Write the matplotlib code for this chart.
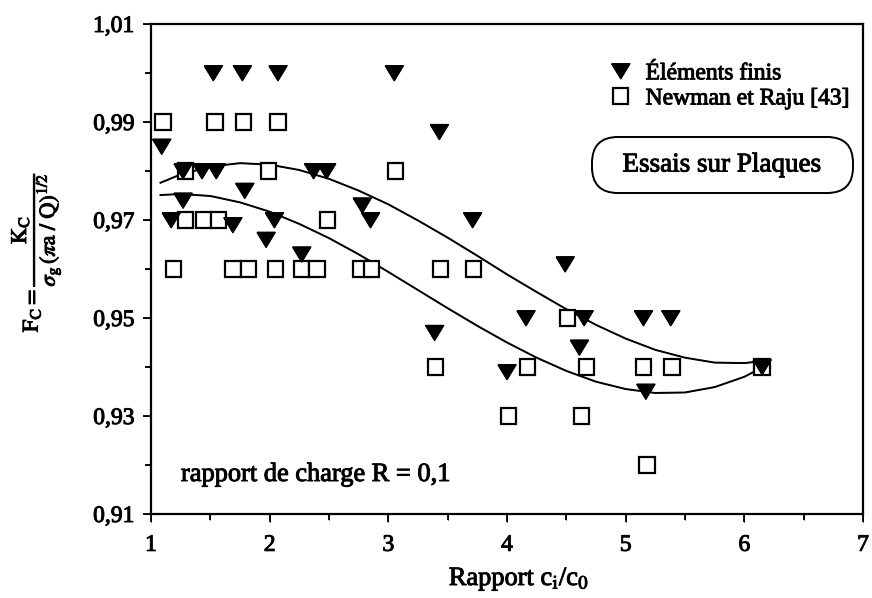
import matplotlib
matplotlib.use('Agg')
import matplotlib.pyplot as plt
import matplotlib.patheffects as pe
from matplotlib.patches import FancyBboxPatch
from matplotlib.transforms import IdentityTransform
from matplotlib.ticker import MultipleLocator, FixedLocator, FuncFormatter

plt.rcParams['font.family'] = ['Liberation Serif', 'DejaVu Serif']
plt.rcParams['mathtext.fontset'] = 'stix'
# the scanned original has heavy text: thicken glyphs a little
plt.rcParams['path.effects'] = [pe.withStroke(linewidth=0.7, foreground='black')]

# Éléments finis (triangles)
ef_x = [1.09, 1.17, 1.27, 1.27, 1.43, 1.55, 1.525, 1.77, 2.07, 1.69, 1.79,
        1.97, 2.04, 2.27, 2.37, 2.48, 2.78, 2.85, 3.05, 3.43, 3.39, 3.71,
        4.00, 4.16, 4.49, 4.61, 4.65, 5.15, 5.38, 5.17, 6.15]
ef_y = [0.985, 0.970, 0.974, 0.980, 0.980, 0.980, 1.000, 1.000, 1.000, 0.969, 0.976,
        0.966, 0.970, 0.963, 0.980, 0.980, 0.973, 0.970, 1.000, 0.988, 0.947, 0.970,
        0.939, 0.950, 0.961, 0.944, 0.950, 0.950, 0.950, 0.935, 0.940]

# Newman et Raju [43] (squares)
nr_x = [1.10, 1.54, 1.78, 2.07, 1.29, 1.99, 3.06, 1.29, 1.44, 1.57, 2.49,
        1.19, 1.69, 1.82, 2.05, 2.27, 2.40, 2.77, 2.86, 3.44, 3.72,
        4.51, 3.40, 4.17, 4.67, 5.15, 5.39, 6.15, 4.01, 4.63, 5.18]
nr_y = [0.99, 0.99, 0.99, 0.99, 0.98, 0.98, 0.98, 0.97, 0.97, 0.97, 0.97,
        0.96, 0.96, 0.96, 0.96, 0.96, 0.96, 0.96, 0.96, 0.96, 0.96,
        0.95, 0.94, 0.94, 0.94, 0.94, 0.94, 0.94, 0.93, 0.93, 0.92]

# trend curves
curve_x = [1.08, 1.25, 1.5, 1.75, 2.0, 2.25, 2.5, 2.75, 3.0, 3.25, 3.5,
           3.75, 4.0, 4.25, 4.5, 4.75, 5.0, 5.25, 5.5, 5.75, 6.0, 6.15]
upper_y = [0.9776, 0.9793, 0.9809, 0.9816, 0.9813, 0.9802, 0.9784, 0.9760, 0.9732, 0.9699, 0.9664,
           0.9627, 0.9589, 0.9553, 0.9518, 0.9486, 0.9458, 0.9435, 0.9419, 0.9409, 0.9408, 0.9412]
lower_y = [0.9751, 0.9753, 0.9749, 0.9736, 0.9717, 0.9692, 0.9663, 0.9630, 0.9594, 0.9557, 0.9520,
           0.9484, 0.9450, 0.9419, 0.9392, 0.9370, 0.9355, 0.9347, 0.9348, 0.9359, 0.9380, 0.9399]

y_ticks = [0.91, 0.93, 0.95, 0.97, 0.99, 1.01]
y_minor = [0.92, 0.94, 0.96, 0.98, 1.00]

# slightly flattened down-pointing triangle, like the original markers
tri = [(-1, 0.8), (1, 0.8), (0, -0.85), (-1, 0.8)]

fig = plt.figure(figsize=(8.72, 5.98), dpi=100)
ax = fig.add_axes([151 / 872, 84 / 598, 712 / 872, 490 / 598])

ax.plot(curve_x, upper_y, color='black', lw=1.4)
ax.plot(curve_x, lower_y, color='black', lw=1.4)
ax.plot(nr_x, nr_y, 's', ms=11, mfc='white', mec='black', mew=1.6,
        ls='none', label='Newman et Raju [43]')
ax.plot(ef_x, ef_y, marker=tri, ms=13, color='black', ls='none', label='Éléments finis')

ax.set_xlim(1, 7)
ax.set_ylim(0.91, 1.01)
ax.xaxis.set_major_locator(MultipleLocator(1))
ax.xaxis.set_minor_locator(MultipleLocator(0.5))
ax.yaxis.set_major_locator(FixedLocator(y_ticks))
ax.yaxis.set_minor_locator(FixedLocator(y_minor))
ax.yaxis.set_major_formatter(FuncFormatter(lambda v, p: f'{v:.2f}'.replace('.', ',')))
ax.tick_params(which='major', length=6, width=1.3, labelsize=17)
ax.tick_params(which='minor', length=4, width=1.3)
ax.tick_params(axis='x', pad=9)
ax.tick_params(axis='y', pad=6)
for s in ax.spines.values():
    s.set_linewidth(1.6)

h, l = ax.get_legend_handles_labels()
ax.legend(h[::-1], l[::-1], loc='upper left', bbox_to_anchor=(0.625, 0.945),
          frameon=False, fontsize=17, borderpad=0, labelspacing=0.15,
          handletextpad=0.5, handlelength=1.1)

box = FancyBboxPatch((592, 598 - 193), 261, 56, boxstyle='round,pad=0,rounding_size=26',
                     transform=IdentityTransform(), fc='white', ec='black', lw=1.4, clip_on=False)
ax.add_artist(box)
fig.text(722 / 872, 1 - 165 / 598, 'Essais sur Plaques', fontsize=19.5, ha='center', va='center')

fig.text(181 / 872, 1 - 481 / 598, 'rapport de charge R = 0,1', fontsize=19, ha='left', va='baseline')

fig.text(519 / 872, 1 - 585 / 598, r'Rapport c$_{\mathrm{i}}$/c$_{\mathrm{0}}$', fontsize=19,
         ha='center', va='baseline')

fig.text(37 / 872, 1 - 252 / 598,
         r'$\mathrm{F_C} = \dfrac{\mathrm{K_C}}{\sigma_{\mathrm{g}}\,(\pi\mathrm{a}\ /\ \mathrm{Q})^{1/2}}$',
         fontsize=16, rotation=90, ha='center', va='center')

fig.savefig('out.png', dpi=100)
